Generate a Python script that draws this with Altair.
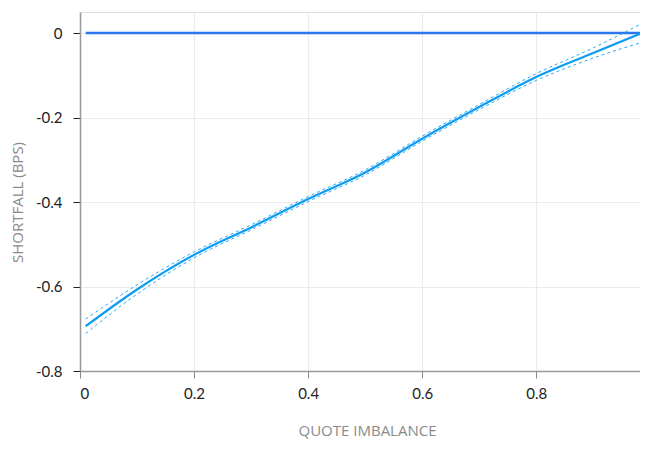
import altair as alt
import pandas as pd

# data
imbalance = [0.01, 0.1, 0.2, 0.3, 0.4, 0.5, 0.6, 0.7, 0.8, 0.9, 0.99]
shortfall = [-0.694, -0.607, -0.525, -0.46, -0.393, -0.33, -0.25, -0.175, -0.104, -0.047, 0.003]
half_band = [0.017, 0.011, 0.007, 0.006, 0.006, 0.006, 0.006, 0.006, 0.008, 0.012, 0.023]
zero_x = [0.01, 1.0]
zero_y = [0.0, 0.0]
x_ticks = [0, 0.2, 0.4, 0.6, 0.8]
y_ticks = [-0.8, -0.6, -0.4, -0.2, 0]

fit = pd.DataFrame({"x": imbalance, "y": shortfall})
band = pd.DataFrame({
    "x": imbalance * 2,
    "y": [v + h for v, h in zip(shortfall, half_band)] + [v - h for v, h in zip(shortfall, half_band)],
    "side": ["upper"] * len(imbalance) + ["lower"] * len(imbalance),
})
zero = pd.DataFrame({"x": zero_x, "y": zero_y})

FONT = "Lato"
TFONT = "Open Sans"
xscale = alt.Scale(domain=[0, 0.982], nice=False, zero=False)
yscale = alt.Scale(domain=[-0.8, 0.05], nice=False, zero=False)

xaxis = alt.Axis(
    values=x_ticks, labelExpr="'' + datum.value", title="QUOTE IMBALANCE",
    titleX=287, titleY=64, titleAnchor="middle", titleAlign="center", titleBaseline="alphabetic",
    titleColor="#8a8a8a", titleFont=TFONT, titleFontSize=15, titleFontWeight="normal",
    labelFont=FONT, labelFontSize=15, labelColor="#222222", labelPadding=8,
    tickColor="#888888", tickSize=7, domainColor="#999999", domainWidth=1.5,
    gridColor="#ebebeb", gridWidth=1.2,
)
yaxis = alt.Axis(
    values=y_ticks, labelExpr="'' + datum.value", title="SHORTFALL (BPS)",
    titleX=-58, titleY=190, titleAngle=-90, titleAlign="center", titleBaseline="alphabetic",
    titleColor="#8a8a8a", titleFont=TFONT, titleFontSize=15, titleFontWeight="normal",
    labelFont=FONT, labelFontSize=15, labelColor="#222222", labelPadding=11,
    tickColor="#222222", tickSize=7, domainColor="#999999", domainWidth=1.5,
    gridColor="#ebebeb", gridWidth=1.2,
)

base_x = alt.X("x:Q", scale=xscale, axis=xaxis)
base_y = alt.Y("y:Q", scale=yscale, axis=yaxis)

zero_line = alt.Chart(zero).mark_line(color="#2a78ea", strokeWidth=2.5, clip=True).encode(
    x=base_x, y=base_y
)
fit_line = alt.Chart(fit).mark_line(color="#0d9cf2", strokeWidth=2.2, interpolate="monotone", clip=True).encode(
    x=base_x, y=base_y
)
band_lines = alt.Chart(band).mark_line(
    color="#2aa8f5", strokeWidth=1, strokeDash=[3, 3], interpolate="monotone", clip=True
).encode(x=base_x, y=base_y, detail="side:N")

chart = alt.layer(zero_line, band_lines, fit_line).properties(
    width=560, height=359,
    autosize=alt.AutoSizeParams(type="none"),
    padding={"left": 72, "top": 4, "right": 0, "bottom": 70},
).configure_view(stroke="#999999", strokeWidth=1.2).configure(background="white")

chart.save("out.html", embed_options={"renderer": "svg", "actions": False})
